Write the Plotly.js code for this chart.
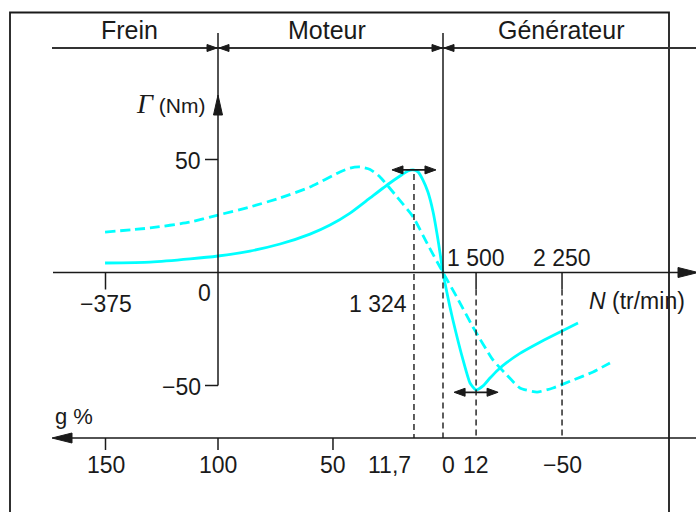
<!DOCTYPE html>
<html><head><meta charset="utf-8">
<script src="https://cdn.plot.ly/plotly-3.0.1.min.js"></script>
<style>html,body{margin:0;padding:0;background:#fff;}#chart{width:696px;height:512px;}</style>
</head><body><div id="chart"></div>
<script>
// ---------- data (slip g in %, torque in Nm) ----------
const slipSolid   = [150.2, 130.2, 112.4, 100, 85.8, 72.4, 59.1, 50.2, 41.3, 32.4, 23.6, 19.1, 15.6, 13.3, 11.1, 8.9, 6.7, 4.4, 2.2, 0, -3.1, -4.4, -8.9, -12, -14.7, -17.8, -20.9, -24.4, -28.4, -34.2, -40, -49.8, -60];
const torqueSolid = [4.2, 4.6, 6.0, 7.3, 9.5, 12.6, 17.0, 21.0, 26.3, 33.0, 39.6, 42.7, 44.9, 45.4, 44.5, 40.9, 35.6, 26.8, 14.4, 0, -15.3, -21, -38.7, -48.9, -52, -50.2, -46.7, -43.1, -39.8, -35.8, -32.5, -27.4, -22.3];
const slipDashed   = [150.2, 130.2, 112.4, 100, 85.8, 72.4, 59.1, 45.8, 41.3, 36.9, 32.4, 28, 20.4, 13.3, 6.7, 0, -6.7, -13.3, -22.2, -28.4, -34.2, -41.8, -48.9, -57.8, -66.7, -74.2];
const torqueDashed = [17.9, 19.7, 22.3, 25.4, 29, 33, 37.8, 44.5, 46.2, 46.7, 45.6, 42.3, 33.4, 24.6, 12.2, 0, -11.9, -24.1, -38.7, -45.4, -51.1, -52.9, -51.1, -47.6, -44, -40];

const zoneLabels = ['Frein', 'Moteur', 'Générateur'];
const zoneCenters = [129, 327, 561];           // pixel centres of the zone titles
const torqueTickVals = [50, -50];
const torqueTickText = ['50', '−50'];
const slipTickPos  = [150, 100, 48.9, 12.9, 0, -14.7, -52.9];   // drawn positions (figure not to scale)
const slipTickText = ['150', '100', '50', '11,7', '0', '12', '−50'];
const speedTickPos  = [150, 100, 12.9, -14.7, -52.9];
const speedTickText = ['−375', '0', '1 324', '1 500', '2 250'];
const maxTorque = {slip: 12.9, torque: 45.4};
const minTorque = {slip: -14.7, torque: -53};

// ---------- geometry helpers ----------
const W = 696, H = 512;
const X0 = 443, KX = 2.25;   // pixel of g = 0, pixels per %
const Y0 = 272.5, KY = 2.26; // pixel of torque 0, pixels per Nm
const xd = px => (X0 - px) / KX;
const yd = py => (Y0 - py) / KY;
const pxOf = g => X0 - KX * g;
const pyOf = t => Y0 - KY * t;
const INK = '#1a1a1a';

const shapes = [];
function seg(px0, py0, px1, py1, w, dash, color) {
  shapes.push({type: 'line', xref: 'x', yref: 'y', x0: xd(px0), y0: yd(py0), x1: xd(px1), y1: yd(py1),
    line: {color: color || INK, width: w || 1.5, dash: dash || 'solid'}, layer: 'above'});
}
function tri(tx, ty, dir, len, hw) {
  let pts;
  if (dir === 'r') pts = [[tx, ty], [tx - len, ty - hw], [tx - len, ty + hw]];
  if (dir === 'l') pts = [[tx, ty], [tx + len, ty - hw], [tx + len, ty + hw]];
  if (dir === 'u') pts = [[tx, ty], [tx - hw, ty + len], [tx + hw, ty + len]];
  const p = 'M' + pts.map(q => xd(q[0]) + ',' + yd(q[1])).join('L') + 'Z';
  shapes.push({type: 'path', xref: 'x', yref: 'y', path: p, fillcolor: INK, line: {color: INK, width: 1}, layer: 'above'});
}

// frame
shapes.push({type: 'rect', xref: 'paper', yref: 'paper', x0: 10 / W, x1: 669 / W, y0: -0.2, y1: 1 - 12.5 / H,
  line: {color: INK, width: 1.8}, fillcolor: 'rgba(0,0,0,0)'});
// zone line
seg(52, 48, 700, 48, 1.8, null, '#333');
// zone separators
const pxG100 = pxOf(100), pxG0 = pxOf(0);
seg(pxG100, 33, pxG100, pyOf(-50), 1.5);
seg(pxG0, 33, pxG0, Y0, 1.5);
[pxG100, pxG0].forEach(x => { tri(x - 1, 48, 'r', 10, 3.5); tri(x + 1, 48, 'l', 10, 3.5); });
// torque axis ticks and arrow
torqueTickVals.forEach(v => seg(pxG100 - 13, pyOf(v), pxG100, pyOf(v), 1.5));
tri(pxG100, 95, 'u', 20, 4.5);
// speed axis (torque = 0)
seg(53, Y0, 690, Y0, 1.6);
tri(698, Y0, 'r', 20, 5);
// slip axis
const GY = 438;
seg(60, GY, 700, GY, 1.6);
tri(52, GY, 'l', 20, 5);
[150, 100, 48.9].forEach(g => seg(pxOf(g), GY, pxOf(g), GY + 12, 1.5));
// speed ticks
[150, -14.7, -52.9].forEach(g => seg(pxOf(g), Y0, pxOf(g), Y0 + 17, 1.5));
// dashed construction lines
const DASH = '6px,4px';
seg(pxOf(maxTorque.slip), pyOf(maxTorque.torque) + 4, pxOf(maxTorque.slip), GY, 1.4, DASH);
seg(pxG0, Y0, pxG0, GY, 1.4, DASH);
seg(pxOf(-14.7), Y0 + 17, pxOf(-14.7), GY, 1.4, DASH);
seg(pxOf(-52.9), Y0 + 17, pxOf(-52.9), GY, 1.4, DASH);
// max / min torque double arrows
[[maxTorque, 22], [minTorque, 22]].forEach(([m, half]) => {
  const cx = pxOf(m.slip), cy = pyOf(m.torque);
  seg(cx - half + 6, cy, cx + half - 6, cy, 1.8);
  tri(cx - half, cy, 'l', 11, 4);
  tri(cx + half, cy, 'r', 11, 4);
});

// ---------- annotations ----------
const FONT = 'Liberation Sans, Arial, sans-serif';
const ann = [];
function txt(text, px, py, size, xanchor) {
  ann.push({text: text, xref: 'x', yref: 'y', x: xd(px), y: yd(py), showarrow: false,
    xanchor: xanchor || 'center', yanchor: 'middle', font: {family: FONT, size: size, color: INK}});
}
zoneLabels.forEach((z, i) => txt(z, zoneCenters[i], 30, 25));
torqueTickVals.forEach((v, i) => txt(torqueTickText[i], pxG100 - 15, pyOf(v) + 1, 23, 'right'));
// speed tick labels
txt(speedTickText[0], pxOf(speedTickPos[0]), 304, 23);
txt(speedTickText[1], pxOf(speedTickPos[1]) - 14, 293, 23);
txt(speedTickText[2], pxOf(speedTickPos[2]) - 5, 304, 23, 'right');
txt(speedTickText[3], pxOf(speedTickPos[3]), 258, 23);
txt(speedTickText[4], pxOf(speedTickPos[4]), 258, 23);
// slip tick labels
slipTickPos.forEach((g, i) => {
  let px = pxOf(g), anchor = 'center';
  if (slipTickText[i] === '11,7') { px = px - 1; anchor = 'right'; }
  if (slipTickText[i] === '0') px = px + 5;
  txt(slipTickText[i], px, 465, 23, anchor);
});
txt('<i>N</i> (tr/min)', 587, 301, 23, 'left');
txt('g %', 53, 416, 22, 'left');
txt('<span style="font-family:Liberation Serif;font-size:28px"><i>Γ</i></span> (Nm)', 207, 103, 21, 'right');

// ---------- traces ----------
const CYAN = '#00ffff';
const traces = [
  {x: slipSolid, y: torqueSolid, type: 'scatter', mode: 'lines', line: {color: CYAN, width: 2.8, shape: 'spline', smoothing: 0.5}, hoverinfo: 'skip'},
  {x: slipDashed, y: torqueDashed, type: 'scatter', mode: 'lines', line: {color: CYAN, width: 2.8, shape: 'spline', smoothing: 0.5, dash: '10px,5px'}, hoverinfo: 'skip'}
];

const layout = {
  width: W, height: H, margin: {l: 0, r: 0, t: 0, b: 0},
  paper_bgcolor: '#fff', plot_bgcolor: '#fff', showlegend: false,
  xaxis: {range: [xd(0), xd(W)], visible: false, fixedrange: true},
  yaxis: {range: [yd(H), yd(0)], visible: false, fixedrange: true},
  shapes: shapes, annotations: ann, font: {family: FONT}
};
Plotly.newPlot('chart', traces, layout, {staticPlot: true, displayModeBar: false});
</script></body></html>
